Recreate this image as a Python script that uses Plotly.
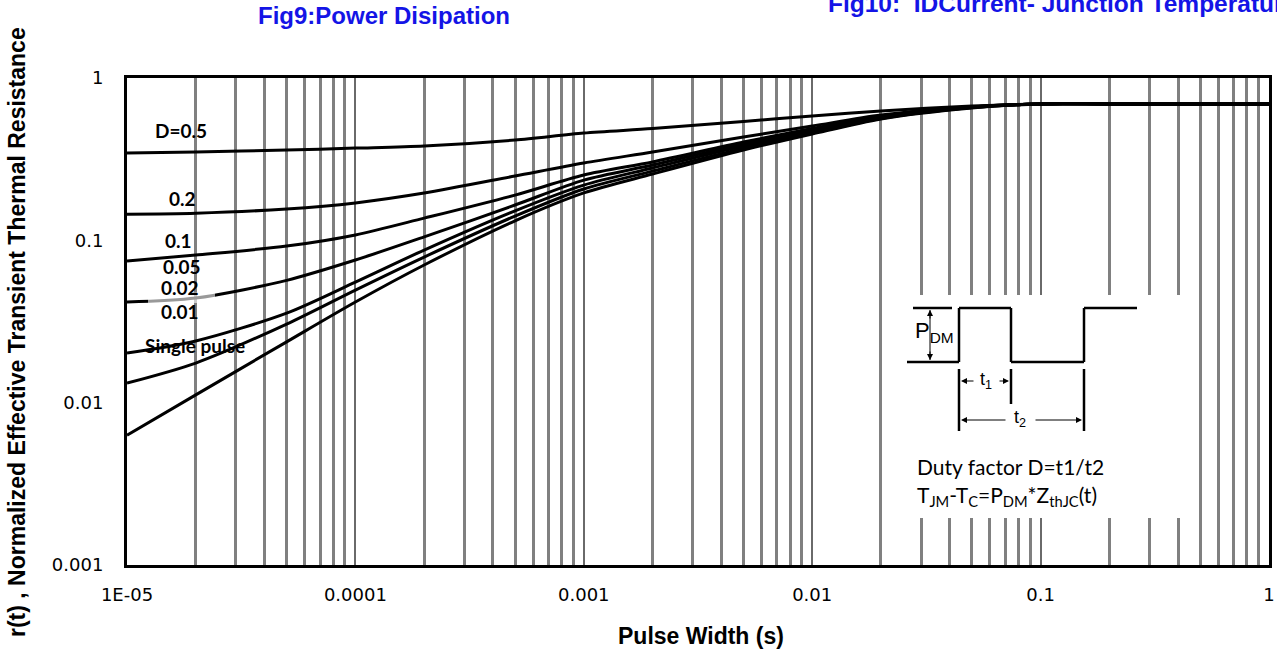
import plotly.graph_objects as go
import numpy as np

# ---------------- data ----------------
pulse_width = [1e-5, 2e-5, 5e-5, 1e-4, 2e-4, 5e-4, 1e-3, 2e-3, 5e-3, 1e-2, 2e-2, 5e-2, 1e-1, 2e-1, 1]
r_d05 = [0.345, 0.350, 0.360, 0.370, 0.381, 0.415, 0.458, 0.488, 0.540, 0.583, 0.626, 0.672, 0.692, 0.692, 0.692]
r_d02 = [0.145, 0.147, 0.156, 0.170, 0.1955, 0.249, 0.2995, 0.350, 0.433, 0.506, 0.592, 0.663, 0.692, 0.692, 0.692]
r_d01 = [0.0745, 0.0812, 0.0922, 0.108, 0.137, 0.190, 0.2525, 0.304, 0.403, 0.488, 0.583, 0.663, 0.692, 0.692, 0.692]
r_d005 = [0.0417, 0.0441, 0.0567, 0.0756, 0.105, 0.165, 0.235, 0.291, 0.392, 0.478, 0.575, 0.663, 0.692, 0.692, 0.692]
r_d002 = [0.0202, 0.0240, 0.0356, 0.0553, 0.0871, 0.152, 0.219, 0.279, 0.381, 0.468, 0.567, 0.658, 0.692, 0.692, 0.692]
r_d001 = [0.0132, 0.01754, 0.0305, 0.0494, 0.0789, 0.141, 0.207, 0.267, 0.370, 0.458, 0.563, 0.658, 0.692, 0.692, 0.692]
r_single = [0.00631, 0.01117, 0.0237, 0.0417, 0.0705, 0.132, 0.196, 0.256, 0.360, 0.452, 0.559, 0.653, 0.692, 0.692, 0.692]

series_names = ["D=0.5", "0.2", "0.1", "0.05", "0.02", "0.01", "Single pulse"]
series_values = [r_d05, r_d02, r_d01, r_d005, r_d002, r_d001, r_single]

x_tickvals = [1e-5, 1e-4, 1e-3, 1e-2, 1e-1, 1]
x_ticktext = ["1E-05", "0.0001", "0.001", "0.01", "0.1", "1"]
y_tickvals = [1e-3, 1e-2, 1e-1, 1]
y_ticktext = ["0.001", "0.01", "0.1", "1"]

# ---------------- figure geometry ----------------
W, H = 1277, 649
L, R, T, B = 127, 8, 78, 84
PW, PH = W - L - R, H - T - B


def px(x):
    return (x - L) / PW


def py(y):
    return (H - B - y) / PH


fig = go.Figure()
for name, vals in zip(series_names, series_values):
    fig.add_trace(go.Scatter(x=pulse_width, y=vals, mode="lines", name=name,
                             line=dict(color="black", width=3, shape="spline", smoothing=0.8),
                             hoverinfo="skip"))

minor_x = [m * 10.0 ** e for e in range(-5, 0) for m in range(2, 10)]

tickfont = dict(family="DejaVu Sans", size=18, color="black")
fig.update_xaxes(type="log", range=[-5, 0], tickmode="array", tickvals=x_tickvals, ticktext=x_ticktext,
                 showline=True, linecolor="black", linewidth=3, mirror=True,
                 showgrid=True, gridcolor="#6a6a6a", gridwidth=2, zeroline=False, ticks="",
                 tickfont=tickfont, ticklabelstandoff=11,
                 minor=dict(tickmode="array", tickvals=minor_x, showgrid=True,
                            gridcolor="#808080", gridwidth=3, ticks=""))
fig.update_yaxes(type="log", range=[-3, 0], tickmode="array", tickvals=y_tickvals, ticktext=y_ticktext,
                 showline=True, linecolor="black", linewidth=3, mirror=True,
                 showgrid=False, zeroline=False, ticks="",
                 tickfont=tickfont, ticklabelstandoff=17)

ann = []
blue = "#1414e6"
ann.append(dict(text="<b>Fig9:Power Disipation</b>", x=px(384), y=py(15), xref="paper", yref="paper",
                showarrow=False, xanchor="center", yanchor="middle",
                font=dict(family="Liberation Sans", size=24, color=blue)))
ann.append(dict(text="<b>Fig10:  IDCurrent- Junction Temperature</b>", x=px(826), y=py(3), xref="paper",
                yref="paper", showarrow=False, xanchor="left", yanchor="middle",
                font=dict(family="Liberation Sans", size=24.5, color=blue)))
ann.append(dict(text="<b>Pulse Width (s)</b>", x=px(701), y=py(636), xref="paper", yref="paper",
                showarrow=False, xanchor="center", yanchor="middle",
                font=dict(family="Liberation Sans", size=23, color="black")))
ann.append(dict(text="<b>r(t) , Normalized Effective Transient Thermal Resistance</b>", x=px(17), y=py(332),
                xref="paper", yref="paper", showarrow=False, textangle=-90,
                xanchor="center", yanchor="middle",
                font=dict(family="Liberation Sans", size=23, color="black")))

# curve labels
label_pos = [(181, 130), (182, 198), (178, 240), (182, 266), (180, 287), (180, 311), (195, 345)]
label_txt = ["D=0.5", "0.2", "0.1", "0.05", "0.02", "0.01", "Single pulse"]
for (lx, ly), t in zip(label_pos, label_txt):
    ann.append(dict(text="<b>" + t + "</b>", x=px(lx), y=py(ly), xref="paper", yref="paper",
                    showarrow=False, xanchor="center", yanchor="middle",
                    font=dict(family="Lato", size=19, color="black")))

shapes = []
# faint white patch around the 0.02 label
shapes.append(dict(type="rect", xref="paper", yref="paper", x0=px(148), x1=px(215), y0=py(292), y1=py(303),
                   fillcolor="rgba(255,255,255,0.6)", line=dict(width=0), layer="above"))
# inset white box
shapes.append(dict(type="rect", xref="paper", yref="paper", x0=px(898), x1=px(1185), y0=py(518), y1=py(295),
                   fillcolor="white", line=dict(width=0), layer="above"))


def seg(x0, y0, x1, y1, w=2.5):
    shapes.append(dict(type="line", xref="paper", yref="paper", x0=px(x0), y0=py(y0), x1=px(x1), y1=py(y1),
                       line=dict(color="black", width=w), layer="above"))


# pulse waveform
top, bot = 308, 362
seg(913, top, 952, top)
seg(907, bot, 959, bot)
seg(959, bot, 959, top)
seg(959, top, 1011, top)
seg(1011, top, 1011, bot)
seg(1011, bot, 1084, bot)
seg(1084, bot, 1084, top)
seg(1084, top, 1137, top)
# t markers
seg(959, 369, 959, 431)
seg(1011, 369, 1011, 404)
seg(1084, 369, 1084, 431)
seg(930, 310, 930, 360, 1)


def arrow(x_head, y_head, x_tail, y_tail):
    ann.append(dict(x=px(x_head), y=py(y_head), xref="paper", yref="paper", ax=x_tail - x_head,
                    ay=y_tail - y_head, axref="pixel", ayref="pixel", text="", showarrow=True,
                    arrowhead=2, arrowsize=1.2, arrowwidth=1, arrowcolor="black"))


arrow(961, 381, 975, 381)
arrow(1009, 381, 998, 381)
arrow(961, 420, 1007, 420)
arrow(1082, 420, 1034, 420)
arrow(930, 310, 930, 320)
arrow(930, 360, 930, 350)

small = dict(family="Liberation Sans", size=18, color="black")
ann.append(dict(text="t<sub>1</sub>", x=px(986), y=py(380), xref="paper", yref="paper", showarrow=False,
                font=small, xanchor="center", yanchor="middle"))
ann.append(dict(text="t<sub>2</sub>", x=px(1020), y=py(418), xref="paper", yref="paper", showarrow=False,
                font=small, xanchor="center", yanchor="middle"))
ann.append(dict(text="P<sub>DM</sub>", x=px(934), y=py(332), xref="paper", yref="paper", showarrow=False,
                font=dict(family="Liberation Sans", size=22, color="black"), xanchor="center",
                yanchor="middle"))
ann.append(dict(text="Duty factor D=t1/t2", x=px(915), y=py(466), xref="paper", yref="paper", showarrow=False,
                font=dict(family="Lato", size=21, color="black"), xanchor="left", yanchor="middle"))
ann.append(dict(text="T<sub>JM</sub>-T<sub>C</sub>=P<sub>DM</sub>*Z<sub>thJC</sub>(t)", x=px(915), y=py(496),
                xref="paper", yref="paper", showarrow=False,
                font=dict(family="Lato", size=21, color="black"), xanchor="left", yanchor="middle"))

fig.update_layout(width=W, height=H, margin=dict(l=L, r=R, t=T, b=B, autoexpand=False),
                  paper_bgcolor="white", plot_bgcolor="white", showlegend=False,
                  annotations=ann, shapes=shapes)

fig.write_html("out.html")
